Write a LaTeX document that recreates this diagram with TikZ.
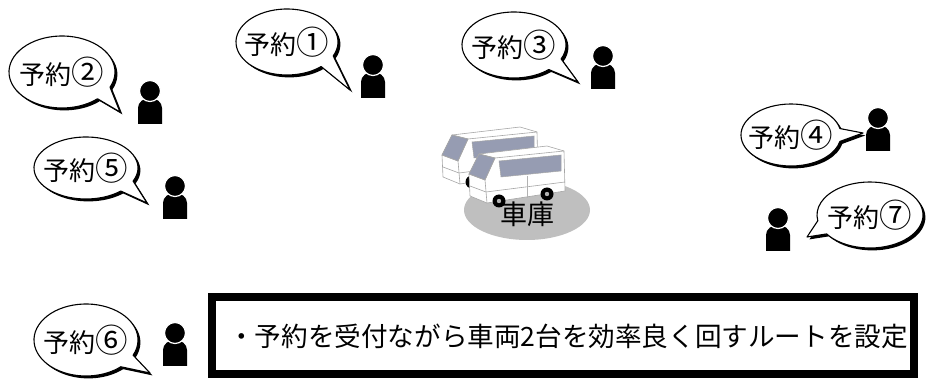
\documentclass[tikz,border=0pt]{standalone}
\usepackage{fontspec}
\setmainfont{Noto Sans CJK JP}
\usepackage{tikz}
\usetikzlibrary{positioning,calc}

\definecolor{vanglass}{RGB}{150,156,178}

% speech bubble: centre, x radius, y radius, start angle, end angle, tail tip
\newcommand{\bubpath}[6]{(#1) ++(#4:#2pt and #3pt) arc[start angle=#4,end angle=#5,x radius=#2pt,y radius=#3pt] -- (#6) -- cycle}
\newcommand{\rsvbubble}[8]{%
  \fill[bubshade] \bubpath{#2}{#3}{#4}{#5}{#6}{#7};
  \draw[bub] \bubpath{#2}{#3}{#4}{#5}{#6}{#7};
  \node [rsv] (#1) at (#2) {予約\scalebox{1.25}{#8}};}

\begin{document}
\begin{tikzpicture}[x=1pt,y=1pt]
  \tikzstyle{bub}=[draw=black,fill=white,line width=1.1pt,line join=round];
  \tikzstyle{bubshade}=[fill=black,shift={(2.4,-2.4)}];
  \tikzstyle{rsv}=[inner sep=0pt,font=\fontsize{26}{28}\selectfont];
  \tikzstyle{vanline}=[draw=gray!70,line width=.6pt,line join=round];
  \tikzstyle{glass}=[fill=vanglass,draw=gray!70,line width=.5pt];
  \tikzset{
    person/.pic={
      \fill (-12,-33) -- (-12,-17) to[out=90,in=180] (0,-7) to[out=0,in=90] (12,-17) -- (12,-33) -- cycle;
      \filldraw[draw=white,line width=1.2pt] (0,0) circle (10.5);
    },
    van/.pic={
      \draw[vanline,fill=white] (2,-28) -- (12,-8) -- (80,0) -- (97,-5) -- (98,-45) -- (20,-57) -- (3,-50) -- cycle;
      \fill[glass] (2,-28) -- (12,-8) -- (28,-12) -- (18,-34) -- cycle;
      \fill[glass] (32,-15) -- (94,-9) -- (94,-25) -- (34,-31) -- cycle;
      \draw[vanline] (12,-8) -- (28,-12) -- (97,-5);
      \draw[vanline] (28,-12) -- (18,-34) -- (20,-57);
      \draw[vanline] (2,-28) -- (18,-34);
      \draw[vanline] (3,-40) -- (19,-46) -- (98,-36);
      \draw[gray!60,line width=.4pt] (60,-30) -- (60,-52);
      \fill[black] (32,-55) circle (6.5);
      \fill[black] (80,-48) circle (6.5);
      \fill[gray!60] (32,-55) circle (2.2);
      \fill[gray!60] (80,-48) circle (2.2);
    }
  }
  \useasboundingbox (0,0) rectangle (930,-387);

  % garage with the two vehicles
  \fill[gray!50] (527,-210) ellipse [x radius=63pt,y radius=30pt];
  \pic at (440,-127) {van};
  \pic at (467,-146) {van};
  \node [font=\fontsize{27}{29}\selectfont] (garage) at (527,-214) {車庫};

  % reservations
  \rsvbubble{r1}{287,-42}{51}{33}{-25}{312}{350,-90}{①}
  \rsvbubble{r2}{62,-72}{53}{36}{-25}{312}{120,-112}{②}
  \rsvbubble{r3}{514,-45}{52}{33}{-25}{312}{578,-82}{③}
  \rsvbubble{r4}{791,-135}{50}{31}{12}{348}{863,-133}{④}
  \rsvbubble{r5}{86,-168}{52}{31}{-25}{312}{147,-203}{⑤}
  \rsvbubble{r6}{86,-340}{52}{36}{-25}{312}{150,-373}{⑥}
  \rsvbubble{r7}{870,-215}{53}{33}{215}{550}{807,-237}{⑦}

  % customers
  \pic (p1) at (373,-65) {person};
  \pic (p2) at (150,-91) {person};
  \pic (p3) at (603,-56) {person};
  \pic (p4) at (878,-118) {person};
  \pic (p5) at (175,-186) {person};
  \pic (p6) at (175,-333) {person};
  \pic (p7) at (778,-218) {person};

  % note
  \draw[line width=8pt] (212,-297) rectangle (914,-374);
  \node [anchor=west,inner sep=0pt,font=\fontsize{26.6}{28}\selectfont] (note) at (228,-336) {・予約を受付ながら車両2台を効率良く回すルートを設定};
\end{tikzpicture}
\end{document}
